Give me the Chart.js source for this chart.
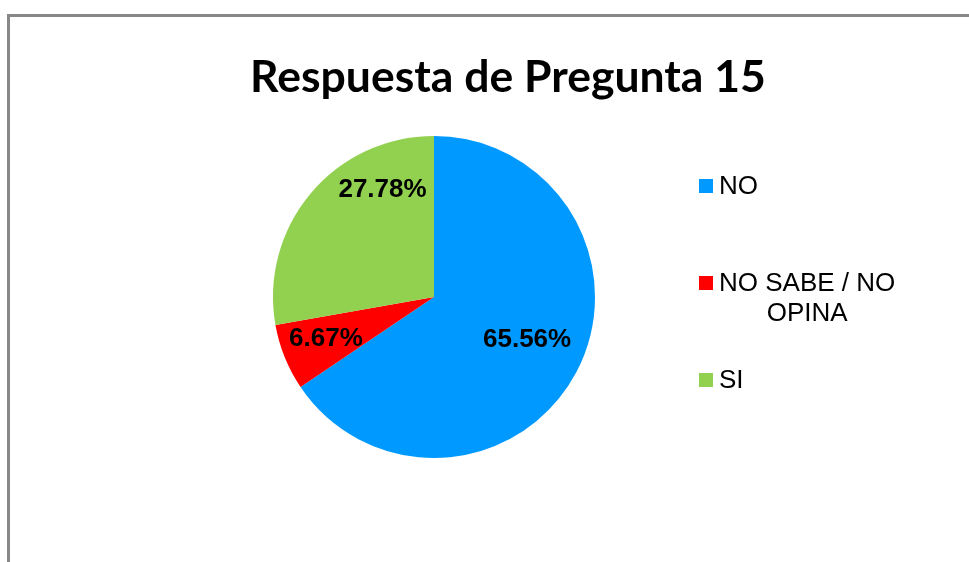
<!DOCTYPE html>
<html>
<head>
<meta charset="utf-8">
<script src="https://cdn.jsdelivr.net/npm/chart.js@4"></script>
<style>
html,body{margin:0;padding:0;background:#fff;}
#wrap{width:969px;height:562px;}
</style>
</head>
<body>
<div id="wrap"><canvas id="c" width="969" height="562"></canvas></div>
<script>
// ---- data ----
const titleText = 'Respuesta de Pregunta 15';
const categories = ['NO', 'NO SABE / NO OPINA', 'SI'];
const counts = [59, 6, 25];
const colors = ['#0099FF', '#FF0000', '#92D050'];

// ---- label placement (polar: degrees clockwise from 3 o'clock, fraction of radius) ----
const labelAngles = [24.8, 158.8, 244.3];
const labelRadii = [0.637, 0.72, 0.737];
const legendRowY = [186, 283, 380];

const total = counts.reduce((a, b) => a + b, 0);

const decor = {
  id: 'decor',
  beforeDraw(chart) {
    const ctx = chart.ctx;
    ctx.save();
    ctx.fillStyle = '#fff';
    ctx.fillRect(0, 0, chart.width, chart.height);
    ctx.strokeStyle = '#888888';
    ctx.lineWidth = 3;
    ctx.strokeRect(8.5, 15.5, 1100, 700);
    ctx.restore();
  },
  afterDraw(chart) {
    const ctx = chart.ctx;
    ctx.save();
    // title
    ctx.fillStyle = '#000';
    ctx.font = 'bold 44.5px Lato';
    ctx.textAlign = 'center';
    ctx.textBaseline = 'alphabetic';
    ctx.fillText(titleText, 508, 92);

    // data labels
    const arc0 = chart.getDatasetMeta(0).data[0];
    const cx = arc0.x, cy = arc0.y, r = arc0.outerRadius;
    ctx.font = 'bold 26px "Liberation Sans", Arial, sans-serif';
    ctx.textBaseline = 'middle';
    counts.forEach((v, i) => {
      const a = labelAngles[i] * Math.PI / 180;
      const x = cx + Math.cos(a) * r * labelRadii[i];
      const y = cy + Math.sin(a) * r * labelRadii[i];
      ctx.fillText((v / total * 100).toFixed(2) + '%', x, y);
    });

    // legend
    ctx.font = '26px "Liberation Sans", Arial, sans-serif';
    const maxW = 200, lineH = 30, textX = 719;
    categories.forEach((lab, i) => {
      const words = lab.split(' ');
      const lines = [];
      let cur = '';
      words.forEach(w => {
        const t = cur ? cur + ' ' + w : w;
        if (ctx.measureText(t).width > maxW && cur) { lines.push(cur); cur = w; }
        else cur = t;
      });
      lines.push(cur);
      const y0 = legendRowY[i];
      ctx.fillStyle = colors[i];
      ctx.fillRect(699, y0 - 7, 14, 14);
      ctx.fillStyle = '#000';
      const blockW = Math.max(...lines.map(l => ctx.measureText(l).width));
      ctx.textAlign = 'center';
      lines.forEach((l, j) => {
        ctx.fillText(l, textX + blockW / 2, y0 + j * lineH + 1);
      });
    });
    ctx.restore();
  }
};

new Chart(document.getElementById('c'), {
  type: 'pie',
  data: {
    labels: categories,
    datasets: [{
      data: counts,
      backgroundColor: colors,
      borderWidth: 0
    }]
  },
  options: {
    responsive: false,
    animation: false,
    layout: { padding: { left: 273, right: 374, top: 136, bottom: 104 } },
    plugins: {
      legend: { display: false },
      title: { display: false },
      tooltip: { enabled: false }
    }
  },
  plugins: [decor]
});
</script>
</body>
</html>
